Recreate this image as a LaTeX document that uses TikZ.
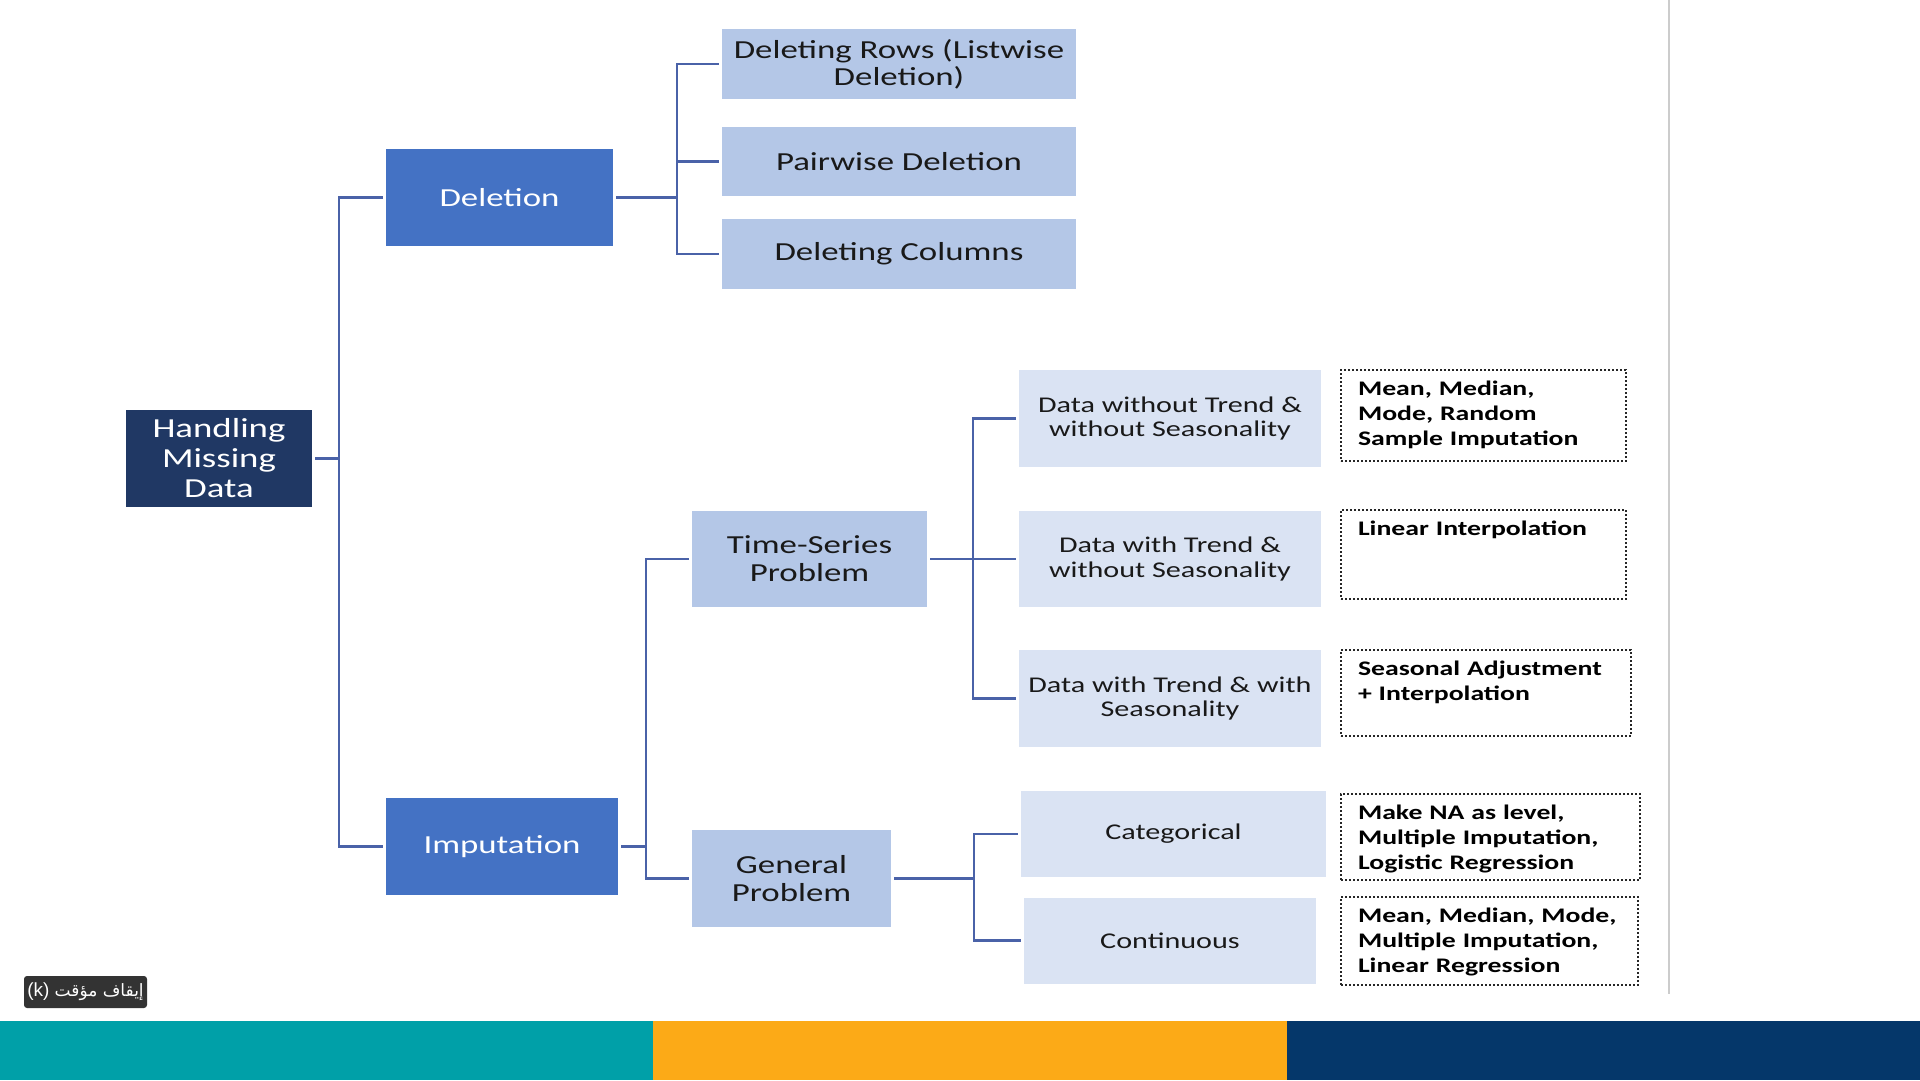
\documentclass[tikz,border=0pt]{standalone}
\usepackage{fontspec}
\setmainfont{Carlito}[FakeStretch=1.34]
\newfontfamily\arabicfont[Script=Arabic]{DejaVu Sans}
\newfontfamily\pausefont{Liberation Sans}
\TeXXeTstate=1
\definecolor{rootblue}{HTML}{203864}
\definecolor{midblue}{HTML}{4472C4}
\definecolor{paleblue}{HTML}{B4C7E7}
\definecolor{iceblue}{HTML}{DAE3F3}
\definecolor{linkblue}{HTML}{4A62A8}
\definecolor{bandteal}{HTML}{00A0A8}
\definecolor{bandorange}{HTML}{FCAA17}
\definecolor{bandnavy}{HTML}{05376A}
\definecolor{slidegray}{HTML}{CCCCCC}
\definecolor{pausegray}{HTML}{333333}

\begin{document}
\begin{tikzpicture}[x=1pt, y=-1pt,
	box/.style={rectangle, align=center, inner sep=0pt, outer sep=3pt},
	rootbox/.style={box, fill=rootblue, text=white, font=\fontsize{27.5}{30}\selectfont},
	methodbox/.style={box, fill=midblue, text=white, font=\fontsize{26}{28}\selectfont},
	kindbox/.style={box, fill=paleblue, text=black!90, font=\fontsize{26}{27}\selectfont},
	casebox/.style={box, fill=iceblue, text=black!90, font=\fontsize{22.5}{24.5}\selectfont},
	fixbox/.style={draw=black!85, line width=2pt, dash pattern=on 2pt off 2pt, anchor=north west, align=left, inner xsep=17pt, inner ysep=6pt, text height=19pt, font=\bfseries\fontsize{20.7}{25.3}\selectfont},
	link/.style={draw=linkblue, line width=2.2pt}]
	\useasboundingbox (0,0) rectangle (1920,1080);
	% slide frame and footer bands
	\draw[slidegray, line width=2pt] (1669,0) -- (1669,994);
	\fill[bandteal] (0,1021) rectangle (653,1080);
	\fill[bandorange] (653,1021) rectangle (1287,1080);
	\fill[bandnavy] (1287,1021) rectangle (1920,1080);
	% tree
	\node[rootbox, minimum width=186pt, minimum height=97pt] (HandlingMissing) at (219, 458.5) {Handling\\Missing\\Data};
	\node[methodbox, minimum width=227pt, minimum height=97pt] (Deletion) at (499.5, 197.5) {Deletion};
	\node[methodbox, minimum width=232pt, minimum height=97pt] (Imputation) at (502, 846.5) {Imputation};
	\node[kindbox, minimum width=354pt, minimum height=70pt] (Listwise) at (899, 64) {Deleting Rows (Listwise\\Deletion)};
	\node[kindbox, minimum width=354pt, minimum height=69pt] (Pairwise) at (899, 161.5) {Pairwise Deletion};
	\node[kindbox, minimum width=354pt, minimum height=70pt] (Columns) at (899, 254) {Deleting Columns};
	\node[kindbox, minimum width=235pt, minimum height=96pt, font=\fontsize{26}{28}\selectfont] (TimeSeries) at (809.5, 559) {Time-Series\\Problem};
	\node[kindbox, minimum width=199pt, minimum height=97pt, font=\fontsize{26}{28}\selectfont] (General) at (791.5, 878.5) {General\\Problem};
	\node[casebox, minimum width=302pt, minimum height=97pt] (NoTrend) at (1170, 418.5) {Data without Trend \&\\without Seasonality};
	\node[casebox, minimum width=302pt, minimum height=96pt] (TrendOnly) at (1170, 559) {Data with Trend \&\\without Seasonality};
	\node[casebox, minimum width=302pt, minimum height=97pt] (TrendSeason) at (1170, 698.5) {Data with Trend \& with\\Seasonality};
	\node[casebox, minimum width=305pt, minimum height=86pt] (Categorical) at (1173.5, 834) {Categorical};
	\node[casebox, minimum width=292pt, minimum height=86pt] (Continuous) at (1170, 940.5) {Continuous};
	% methods per case
	\node[fixbox, text width=251pt, text depth=60pt] (FixNoTrend) at (1340, 369) {Mean, Median,\\Mode, Random\\Sample Imputation};
	\node[fixbox, text width=251pt, text depth=58pt] (FixTrendOnly) at (1340, 509) {Linear Interpolation};
	\node[fixbox, text width=256pt, text depth=55pt] (FixTrendSeason) at (1340, 649) {Seasonal Adjustment\\+ Interpolation};
	\node[fixbox, text width=265pt, text depth=55pt] (FixCategorical) at (1340, 793) {Make NA as level,\\Multiple Imputation,\\Logistic Regression};
	\node[fixbox, text width=263pt, text depth=57pt] (FixContinuous) at (1340, 896) {Mean, Median, Mode,\\Multiple Imputation,\\Linear Regression};
	% connectors
	\draw[link] (HandlingMissing.east) -- ++(24,0) |- (Deletion.west);
	\draw[link] (HandlingMissing.east) -- ++(24,0) |- (Imputation.west);
	\draw[link] (Deletion.east) -- ++(61,0) |- (Listwise.west);
	\draw[link] (Deletion.east) -- ++(61,0) |- (Pairwise.west);
	\draw[link] (Deletion.east) -- ++(61,0) |- (Columns.west);
	\draw[link] (Imputation.east) -- ++(25,0) |- (TimeSeries.west);
	\draw[link] (Imputation.east) -- ++(25,0) |- (General.west);
	\draw[link] (TimeSeries.east) -- ++(43,0) |- (NoTrend.west);
	\draw[link] (TimeSeries.east) -- ++(43,0) |- (TrendOnly.west);
	\draw[link] (TimeSeries.east) -- ++(43,0) |- (TrendSeason.west);
	\draw[link] (General.east) -- ++(80,0) |- (Categorical.west);
	\draw[link] (General.east) -- ++(80,0) |- (Continuous.west);
	% player hint
	\node[fill=pausegray, rounded corners=3pt, text=white, minimum width=123pt, minimum height=32pt, inner sep=0pt, font=\fontsize{19}{19}\selectfont] (PauseHint) at (85.5, 992) {\pausefont (k)~{\arabicfont\fontsize{17}{17}\selectfont\beginR إيقاف مؤقت\endR}};
\end{tikzpicture}
\end{document}
